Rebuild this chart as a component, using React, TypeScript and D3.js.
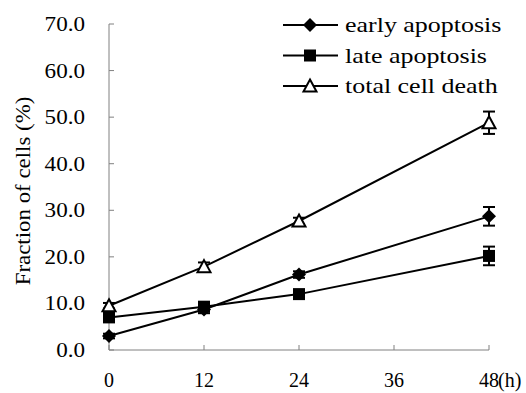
import React from 'react';
import * as d3 from 'd3';

// hours after treatment
const hours = [0, 12, 24, 48];
const xTicks = [0, 12, 24, 36, 48];
const yTicks = [0, 10, 20, 30, 40, 50, 60, 70];

// fraction of cells (%) and error bars
const earlyApoptosis = [3.0, 8.7, 16.2, 28.7];
const earlyErr = [0.5, 0.8, 0.7, 2.0];
const lateApoptosis = [7.0, 9.3, 12.0, 20.2];
const lateErr = [0.6, 0.8, 0.7, 2.0];
const totalDeath = [9.5, 17.9, 27.7, 48.8];
const totalErr = [0.6, 0.9, 0.7, 2.4];

const seriesNames = ['early apoptosis', 'late apoptosis', 'total cell death'];
const seriesMarkers = ['diamond', 'square', 'triangle'];

const FONT = 'Liberation Serif';
const width = 526;
const height = 393;

const x = d3.scaleLinear().domain([0, 48]).range([109, 489]);
const y = d3.scaleLinear().domain([0, 70]).range([350, 24]);
const fmtY = d3.format('.1f');

const Marker = ({ kind, cx, cy }: { kind: string; cx: number; cy: number }) => {
  if (kind === 'diamond') {
    return <path d={`M${cx},${cy - 7}L${cx + 7},${cy}L${cx},${cy + 7}L${cx - 7},${cy}Z`} fill="#000" />;
  }
  if (kind === 'square') {
    return <rect x={cx - 6} y={cy - 6} width={12} height={12} fill="#000" />;
  }
  return (
    <path
      d={`M${cx},${cy - 6.5}L${cx + 6.5},${cy + 5.5}L${cx - 6.5},${cy + 5.5}Z`}
      fill="#fff"
      stroke="#000"
      strokeWidth={2}
    />
  );
};

const App = () => {
  const series = [
    { values: earlyApoptosis, err: earlyErr },
    { values: lateApoptosis, err: lateErr },
    { values: totalDeath, err: totalErr },
  ];

  const line = d3.line<number>()
    .x((_, i) => x(hours[i]))
    .y(d => y(d));

  return (
    <svg width={width} height={height} style={{ position: 'absolute', left: 0, top: 0 }}>
      <rect width={width} height={height} fill="#fff" />

      {/* y axis, ticks point inward */}
      <line x1={x(0)} x2={x(0)} y1={y(70)} y2={y(0)} stroke="#808080" />
      {yTicks.map(t => (
        <g key={t}>
          <line x1={x(0)} x2={x(0) + 5} y1={y(t)} y2={y(t)} stroke="#808080" />
          <text
            transform={`translate(${x(0) - 24},${y(t) + 7}) scale(1.1,1)`}
            textAnchor="end"
            fontFamily={FONT}
            fontSize={21}
          >
            {fmtY(t)}
          </text>
        </g>
      ))}

      {/* x axis */}
      <line x1={x(0)} x2={x(48)} y1={y(0)} y2={y(0)} stroke="#808080" />
      {xTicks.map(t => (
        <g key={t}>
          <line x1={x(t)} x2={x(t)} y1={y(0)} y2={y(0) - 5} stroke="#808080" />
          <text x={x(t)} y={387} textAnchor="middle" fontFamily={FONT} fontSize={20}>
            {String(t)}
          </text>
        </g>
      ))}
      <text x={x(48) + 9} y={387} fontFamily={FONT} fontSize={20}>(h)</text>

      {/* y axis title */}
      <text
        transform="translate(30,191) rotate(-90) scale(1.04,1)"
        textAnchor="middle"
        fontFamily={FONT}
        fontSize={22}
      >
        Fraction of cells (%)
      </text>

      {series.map((s, si) => (
        <g key={si}>
          <path d={line(s.values) || ''} fill="none" stroke="#000" strokeWidth={2} />
          {s.values.map((v, i) => {
            const cx = x(hours[i]);
            const top = y(v + s.err[i]);
            const bot = y(v - s.err[i]);
            return (
              <g key={i}>
                <line x1={cx} x2={cx} y1={top} y2={bot} stroke="#000" strokeWidth={2} />
                <line x1={cx - 6} x2={cx + 6} y1={top} y2={top} stroke="#000" strokeWidth={2} />
                <line x1={cx - 6} x2={cx + 6} y1={bot} y2={bot} stroke="#000" strokeWidth={2} />
              </g>
            );
          })}
          {s.values.map((v, i) => (
            <Marker key={'m' + i} kind={seriesMarkers[si]} cx={x(hours[i])} cy={y(v)} />
          ))}
        </g>
      ))}

      {/* legend */}
      {seriesNames.map((name, i) => {
        const ly = 25 + i * 30.5;
        return (
          <g key={name}>
            <line x1={283} x2={338} y1={ly} y2={ly} stroke="#000" strokeWidth={2} />
            <Marker kind={seriesMarkers[i]} cx={310} cy={ly} />
            <text
              transform={`translate(345,${ly + 7}) scale(1.18,1)`}
              fontFamily={FONT}
              fontSize={22}
            >
              {name}
            </text>
          </g>
        );
      })}
    </svg>
  );
};

export default App;
